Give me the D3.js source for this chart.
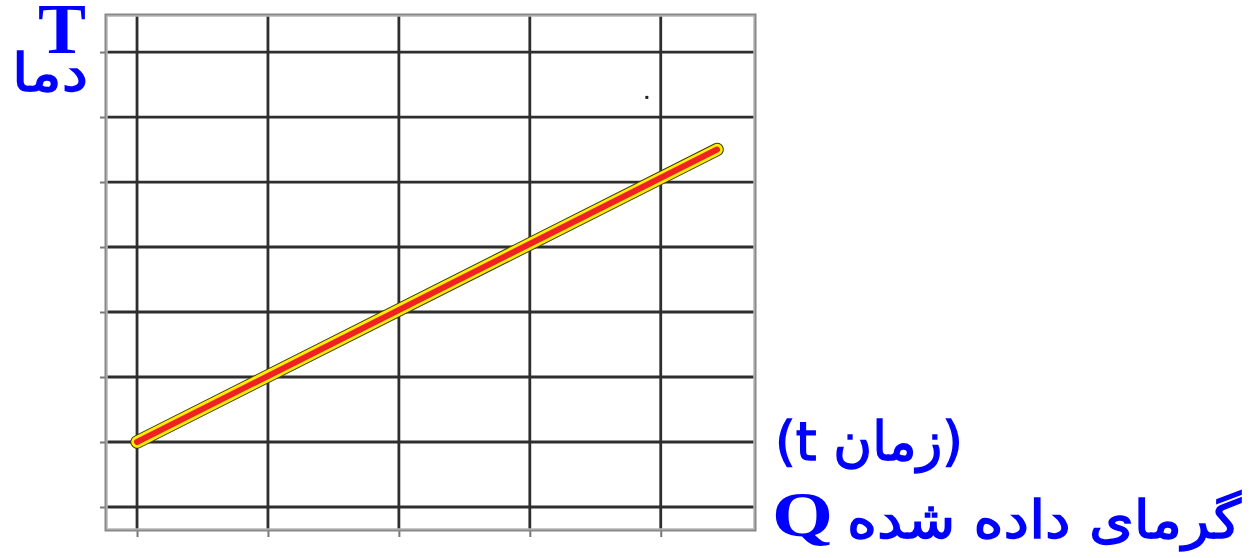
<!DOCTYPE html>
<html><head><meta charset="utf-8">
<script src="https://cdn.jsdelivr.net/npm/d3@7"></script>
<style>body{margin:0;background:#fff;}svg{display:block;}</style>
</head><body>
<svg id="c" width="1257" height="558"></svg>
<script>
// data
const xGrid = [0, 1, 2, 3, 4];
const yGrid = [0, 1, 2, 3, 4, 5, 6, 7];
const lineX = [0, 4.43];
const lineY = [1, 5.5];
const strayPoint = [[3.89, 6.31]];
const yLabelSymbol = "T";
const yLabelText = "دما";
const xLabelTop = "(t زمان)";
const xLabelSymbol = "Q";
const xLabelText = "گرمای داده شده";

const svg = d3.select("#c");
const pL = 106, pR = 755, pT = 15, pB = 530;
const x = d3.scaleLinear().domain([-0.237, 4.72]).range([pL, pR]);
const y = d3.scaleLinear().domain([-0.354, 7.57]).range([pB, pT]);

// grid
const g = svg.append("g");
g.selectAll(".vx").data(xGrid).join("line")
  .attr("x1", d => x(d)).attr("x2", d => x(d)).attr("y1", pT).attr("y2", pB)
  .attr("stroke", "#2e2e2e").attr("stroke-width", 2.8);
g.selectAll(".hy").data(yGrid).join("line")
  .attr("y1", d => y(d)).attr("y2", d => y(d)).attr("x1", pL).attr("x2", pR)
  .attr("stroke", "#2e2e2e").attr("stroke-width", 2.8);

// axes ticks
const ax = svg.append("g").attr("transform", `translate(0,${pB})`)
  .call(d3.axisBottom(x).tickValues(xGrid).tickSize(7).tickSizeOuter(0).tickFormat(""));
const ay = svg.append("g").attr("transform", `translate(${pL},0)`)
  .call(d3.axisLeft(y).tickValues(yGrid).tickSize(6).tickSizeOuter(0).tickFormat(""));
[ax, ay].forEach(a => { a.select(".domain").remove(); a.selectAll("line").attr("stroke", "#777").attr("stroke-width", 2); });

// frame
svg.append("rect").attr("x", pL).attr("y", pT).attr("width", pR - pL).attr("height", pB - pT)
  .attr("fill", "none").attr("stroke", "#888").attr("stroke-width", 3);
svg.append("rect").attr("x", pL + 1).attr("y", pT + 1).attr("width", pR - pL - 2).attr("height", pB - pT - 2)
  .attr("fill", "none").attr("stroke", "#ccc").attr("stroke-width", 1);

// line
const pts = lineX.map((v, i) => [v, lineY[i]]);
const lg = d3.line().x(d => x(d[0])).y(d => y(d[1]));
[["#3a3a00", 13.5], ["#ffee00", 11.5], ["#ee2222", 6]].forEach(([c, w]) => {
  svg.append("path").attr("d", lg(pts)).attr("fill", "none").attr("stroke", c)
    .attr("stroke-width", w).attr("stroke-linecap", "round");
});
svg.selectAll(".sp").data(strayPoint).join("rect")
  .attr("x", d => x(d[0]) - 1).attr("y", d => y(d[1]) - 1).attr("width", 3).attr("height", 3).attr("fill", "#222");

// labels
const blue = "#0000ff";
function fitText(t, x0, x1, yb) {
  t.attr("x", 0).attr("y", 0);
  const b = t.node().getBBox();
  const s = (x1 - x0) / b.width;
  t.attr("transform", `translate(${x0 - b.x * s},${yb}) scale(${s},1)`);
}
const tT = svg.append("text")
  .attr("font-family", "Liberation Serif").attr("font-weight", "bold").attr("font-size", 72)
  .attr("fill", blue).text(yLabelSymbol);
fitText(tT, 38, 86, 53);
const tD = svg.append("text").attr("direction", "ltr")
  .attr("font-family", "DejaVu Sans").attr("font-size", 52)
  .attr("fill", blue).attr("stroke", blue).attr("stroke-width", 1.4).text(yLabelText);
fitText(tD, 12, 88, 91);
const tTop = svg.append("text").attr("direction", "ltr")
  .attr("font-family", "DejaVu Sans").attr("font-size", 54)
  .attr("fill", blue).attr("stroke", blue).attr("stroke-width", 1.4).text(xLabelTop);
fitText(tTop, 775, 963, 460);
const tQ = svg.append("text")
  .attr("font-family", "Liberation Serif").attr("font-weight", "bold").attr("font-size", 64)
  .attr("fill", blue).text(xLabelSymbol);
fitText(tQ, 772, 833, 536);
const tB = svg.append("text").attr("direction", "ltr")
  .attr("font-family", "DejaVu Sans").attr("font-size", 53)
  .attr("fill", blue).attr("stroke", blue).attr("stroke-width", 1.4).text(xLabelText);
fitText(tB, 847, 1242, 538);
</script>
</body></html>
